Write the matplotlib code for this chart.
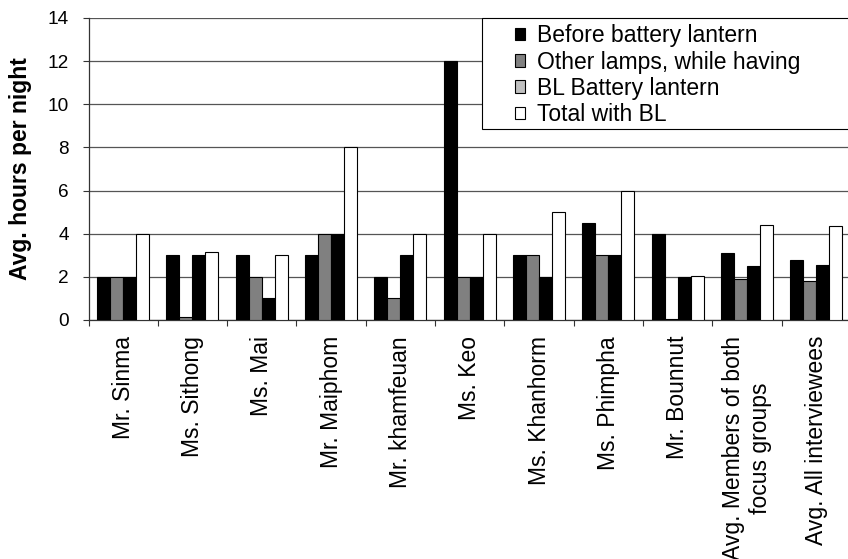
import numpy as np
import matplotlib
matplotlib.use("Agg")
import matplotlib.pyplot as plt
from matplotlib.patches import Rectangle

plt.rcParams['font.family'] = ['Liberation Sans', 'DejaVu Sans']

# data
names = ["Mr. Sinma", "Ms. Sithong", "Ms. Mai", "Mr. Maiphom", "Mr. khamfeuan",
         "Ms. Keo", "Ms. Khanhorm", "Ms. Phimpha", "Mr. Bounnut",
         "Avg. Members of both\nfocus groups", "Avg. All interviewees"]
before_bl = [2, 3, 3, 3, 2, 12, 3, 4.5, 4, 3.1, 2.8]
other_lamps = [2, 0.15, 2, 4, 1, 2, 3, 3, 0.05, 1.9, 1.8]
bl_lantern = [2, 3, 1, 4, 3, 2, 2, 3, 2, 2.5, 2.55]
total_bl = [4, 3.15, 3, 8, 4, 4, 5, 6, 2.05, 4.4, 4.35]
series_names = ["Before battery lantern", "Other lamps, while having",
                "BL Battery lantern", "Total with BL"]

fig = plt.figure(figsize=(8.48, 5.59), dpi=100)
ax = fig.add_axes([88.5 / 848, 239 / 559, 762.5 / 848, 302 / 559])

x = np.arange(len(names))
w = 0.1875
series = [before_bl, other_lamps, bl_lantern, total_bl]
# third series is drawn black in the original, legend swatch is light grey
bar_colors = ['black', '#808080', 'black', 'white']
legend_colors = ['black', '#808080', '#c0c0c0', 'white']

bars = []
for i, vals in enumerate(series):
    b = ax.bar(x + (i - 1.5) * w, vals, w, color=bar_colors[i],
               edgecolor='black', linewidth=0.8, zorder=3, label=series_names[i])
    bars.append(b)

ax.set_xlim(-0.5, len(names) - 0.5)
ax.set_ylim(0, 14)
ax.set_yticks(np.arange(0, 15, 2))
ax.yaxis.grid(True, color='#555555', linewidth=0.9)
ax.set_axisbelow(True)

for s in ['top', 'right']:
    ax.spines[s].set_visible(False)
for s in ['left', 'bottom']:
    ax.spines[s].set_color('#333333')
    ax.spines[s].set_linewidth(0.9)

ax.set_xticks(x)
ax.set_xticklabels(names, rotation=90, ha='center', va='top',
                   multialignment='center', fontsize=16.5)
ax.set_xticks(np.arange(-0.5, len(names), 1), minor=True)
ax.tick_params(axis='x', which='major', length=0, pad=11.5)
ax.tick_params(axis='x', which='minor', length=4.3, width=0.8, color='#333333')
ax.tick_params(axis='y', length=4.3, width=0.8, color='#333333', pad=10,
               labelsize=13.7)
ax.set_ylabel("Avg. hours per night", fontsize=16.5, fontweight='bold',
              labelpad=11)

# legend box
box = Rectangle((0.516, 0.6315), 0.49, 0.3685, transform=ax.transAxes,
                facecolor='white', edgecolor='black', linewidth=0.8,
                zorder=4, clip_on=False)
ax.add_patch(box)

leg = ax.legend(handles=bars, loc='upper left',
                bbox_to_anchor=((515 - 88.5) / 762.5, 0.979),
                frameon=False, fontsize=16.5, borderpad=0, borderaxespad=0,
                handlelength=0.45, handleheight=0.45, handletextpad=0.5,
                labelspacing=0.14)
leg.set_zorder(5)
for h, c in zip(leg.legend_handles, legend_colors):
    h.set_facecolor(c)
    h.set_edgecolor('black')
    h.set_linewidth(0.8)

fig.savefig("out.png", dpi=100)
